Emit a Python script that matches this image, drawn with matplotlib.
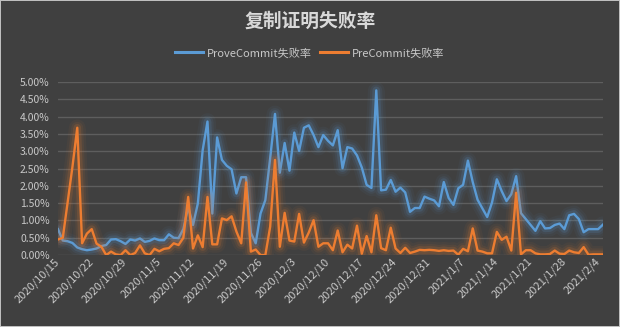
import numpy as np
import pandas as pd
import matplotlib
matplotlib.use('Agg')
import matplotlib.pyplot as plt
import matplotlib.patheffects as pe
from matplotlib.ticker import FuncFormatter
import matplotlib.transforms as mtransforms

plt.rcParams['font.family'] = ['Noto Sans CJK SC', 'DejaVu Sans']

# daily failure rates (%), 2020/10/15 .. 2021/2/5
dates = pd.date_range('2020-10-15', '2021-02-05', freq='D')

prove_commit = [
    0.75, 0.42, 0.40, 0.35, 0.22, 0.17, 0.14, 0.16, 0.19, 0.26,
    0.29, 0.45, 0.46, 0.40, 0.32, 0.45, 0.42, 0.48, 0.38, 0.41,
    0.48, 0.43, 0.43, 0.60, 0.50, 0.49, 0.75, 1.39, 0.87, 1.49,
    3.03, 3.86, 1.20, 3.40, 2.75, 2.58, 2.48, 1.78, 2.25, 2.25,
    0.64, 0.34, 1.20, 1.59, 2.80, 4.08, 2.38, 3.24, 2.44, 3.54,
    3.01, 3.68, 3.75, 3.47, 3.12, 3.47, 3.30, 3.17, 3.61, 2.51,
    3.12, 3.08, 2.88, 2.53, 2.03, 1.94, 4.76, 1.87, 1.89, 2.17,
    1.83, 1.95, 1.81, 1.25, 1.36, 1.36, 1.69, 1.63, 1.58, 1.41,
    2.11, 1.65, 1.45, 1.93, 2.03, 2.73, 2.11, 1.60, 1.35, 1.10,
    1.52, 2.19, 1.85, 1.56, 1.76, 2.28, 1.21, 1.04, 0.87, 0.70,
    0.98, 0.77, 0.78, 0.87, 0.91, 0.75, 1.15, 1.19, 1.04, 0.66,
    0.75, 0.75, 0.75, 0.88,
]

pre_commit = [
    0.45, 0.50, 1.52, 2.55, 3.68, 0.34, 0.62, 0.75, 0.33, 0.24,
    0.00, 0.10, 0.02, 0.00, 0.14, 0.00, 0.06, 0.28, 0.05, 0.00,
    0.18, 0.11, 0.18, 0.20, 0.34, 0.29, 0.50, 1.68, 0.19, 0.57,
    0.23, 1.68, 0.31, 0.31, 1.06, 1.01, 1.12, 0.68, 0.34, 2.10,
    0.10, 0.16, 0.00, 0.00, 0.82, 2.75, 0.24, 1.22, 0.42, 0.39,
    1.19, 0.36, 0.65, 1.01, 0.24, 0.34, 0.34, 0.14, 0.71, 0.08,
    0.30, 0.19, 0.85, 0.04, 0.55, 0.08, 1.15, 0.20, 0.14, 0.79,
    0.19, 0.06, 0.21, 0.06, 0.10, 0.15, 0.14, 0.15, 0.14, 0.12,
    0.14, 0.12, 0.13, 0.01, 0.18, 0.11, 0.77, 0.13, 0.10, 0.05,
    0.05, 0.67, 0.44, 0.53, 0.13, 1.80, 0.02, 0.14, 0.14, 0.05,
    0.02, 0.02, 0.03, 0.13, 0.04, 0.03, 0.13, 0.08, 0.06, 0.23,
    0.01, 0.02, 0.02, 0.02,
]

labels = ['%d/%d/%d' % (d.year, d.month, d.day) for d in dates]

bg = '#404040'
txt = '#c8c8c8'
blue = '#5b9bd5'
orange = '#ed7d31'

fig = plt.figure(figsize=(6.2, 3.27), dpi=100)
fig.patch.set_facecolor(bg)
fig.patch.set_edgecolor('#bfbfbf')
fig.patch.set_linewidth(1.2)

ax = fig.add_axes([0.0935, 0.22, 0.879, 0.529])
ax.set_facecolor(bg)

x = np.arange(len(dates))

# soft halo under each series
def glow(color):
    kw = dict(foreground=color, joinstyle='round', capstyle='round')
    return [pe.Stroke(linewidth=12, alpha=0.05, **kw),
            pe.Stroke(linewidth=8.5, alpha=0.08, **kw),
            pe.Stroke(linewidth=5.5, alpha=0.15, **kw),
            pe.Normal()]

ax.plot(x, prove_commit, color=blue, lw=1.7, label='ProveCommit失败率',
        path_effects=glow(blue), solid_joinstyle='round', zorder=3)
ax.plot(x, pre_commit, color=orange, lw=1.7, label='PreCommit失败率',
        path_effects=glow(orange), solid_joinstyle='round', zorder=4)

ax.set_xlim(0, len(dates) - 1)
ax.set_ylim(0, 5)
ax.set_yticks(np.arange(0, 5.01, 0.5))
ax.yaxis.set_major_formatter(FuncFormatter(lambda v, p: '%.2f%%' % v))
ax.grid(axis='y', color='#5e5e5e', lw=1)
ax.set_axisbelow(True)
for s in ax.spines.values():
    s.set_visible(False)

ticks = x[::7]
ax.set_xticks(ticks)
ax.set_xticklabels([labels[i] for i in ticks], rotation=45, ha='right',
                   va='center', rotation_mode='anchor')
shift = mtransforms.ScaledTranslation(10 / 72, -11 / 72, fig.dpi_scale_trans)
for lab in ax.get_xticklabels():
    lab.set_transform(lab.get_transform() + shift)

ax.tick_params(axis='both', length=0, colors=txt, labelsize=7.5)
ax.tick_params(axis='x', labelsize=8)
ax.tick_params(axis='y', pad=6)

fig.text(0.5, 0.935, '复制证明失败率', ha='center', va='center',
         color='#d9d9d9', fontsize=13.5, fontweight='bold')

leg = fig.legend(loc='center', bbox_to_anchor=(0.5, 0.838), ncol=2,
                 frameon=False, fontsize=8, handlelength=2.5,
                 columnspacing=0.7, handletextpad=0.4)
for t in leg.get_texts():
    t.set_color(txt)
for h in leg.get_lines():
    h.set_linewidth(2.2)
    h.set_path_effects([])

fig.savefig('out.png', dpi=100, facecolor=bg, edgecolor='#bfbfbf')
